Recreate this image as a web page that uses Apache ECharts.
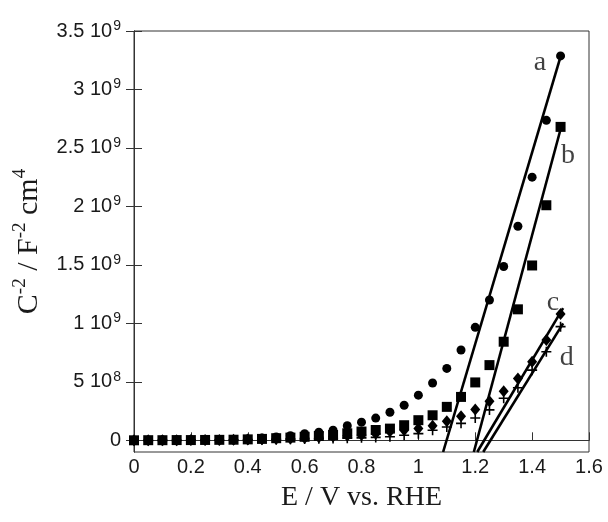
<!DOCTYPE html>
<html>
<head>
<meta charset="utf-8">
<script src="https://cdn.jsdelivr.net/npm/echarts@6/dist/echarts.min.js"></script>
<style>
html,body{margin:0;padding:0;background:#fff;}
#chart{width:608px;height:522px;}
</style>
</head>
<body>
<div id="chart"></div>
<script>
// ---- data (C^-2 values in units of 1e9) ----
const UNIT = 1e9;
const xValues = [0,0.05,0.1,0.15,0.2,0.25,0.3,0.35,0.4,0.45,0.5,0.55,0.6,0.65,0.7,0.75,0.8,0.85,0.9,0.95,1.0,1.05,1.1,1.15,1.2,1.25,1.3,1.35,1.4,1.45,1.5];
const seriesA = [0.001,0.001,0.002,0.002,0.003,0.004,0.005,0.007,0.012,0.02,0.028,0.04,0.057,0.069,0.086,0.125,0.155,0.19,0.24,0.30,0.386,0.49,0.615,0.772,0.966,1.2,1.486,1.83,2.25,2.736,3.287];
const seriesB = [0.0,0.001,0.001,0.002,0.002,0.003,0.004,0.005,0.008,0.012,0.018,0.023,0.03,0.037,0.045,0.06,0.075,0.088,0.1,0.129,0.172,0.214,0.286,0.371,0.495,0.643,0.843,1.12,1.495,2.01,2.68];
const seriesC = [0.0,0.0,0.001,0.001,0.002,0.002,0.003,0.004,0.006,0.009,0.012,0.016,0.02,0.026,0.032,0.038,0.045,0.055,0.075,0.085,0.1,0.125,0.163,0.206,0.263,0.334,0.42,0.529,0.672,0.858,1.08];
const seriesD = [-0.002,-0.002,-0.001,-0.001,0.0,0.0,0.001,0.002,0.003,0.005,0.007,0.009,0.011,0.013,0.015,0.018,0.021,0.025,0.03,0.043,0.057,0.086,0.114,0.145,0.191,0.26,0.36,0.449,0.6,0.757,0.972];
const fitA = [[1.087,-0.1],[1.5,3.28]];
const fitB = [[1.195,-0.1],[1.5,2.66]];
const fitC = [[1.207,-0.1],[1.509,1.13]];
const fitD = [[1.228,-0.1],[1.509,1.0]];
const curveLabels = [[1.428,3.23,'a'],[1.526,2.43,'b'],[1.473,1.175,'c'],[1.522,0.71,'d']];
const xTicks = [0,0.2,0.4,0.6,0.8,1,1.2,1.4,1.6];
const yTicks = [0,0.5,1,1.5,2,2.5,3,3.5];

const toPts = arr => arr.map((v,i)=>[xValues[i], v*UNIT]);
const toLine = arr => arr.map(p=>[p[0], p[1]*UNIT]);

const chart = echarts.init(document.getElementById('chart'), null, {renderer:'canvas'});
const sansFont = 'Liberation Sans, Arial, sans-serif';
const serifFont = 'Liberation Serif, Times New Roman, serif';

function yFmt(v){
  if (Math.abs(v) < 1) return '0';
  const e = Math.floor(Math.log10(v) + 1e-9);
  const m = +(v / Math.pow(10, e)).toFixed(3);
  return m + ' 10{sup|' + e + '}';
}
const yTickVals = yTicks.map(v=>v*UNIT);

const markerStyle = {color:'#000',opacity:1};
const plusPath = 'path://M4.2,0H5.8V4.2H10V5.8H5.8V10H4.2V5.8H0V4.2H4.2Z';

const option = {
  animation:false,
  backgroundColor:'#fff',
  grid:{left:134,right:19,top:31,bottom:70,show:true,borderColor:'#333',borderWidth:1},
  xAxis:[{
    type:'value',min:0,max:1.6,interval:0.2,position:'bottom',
    axisLine:{show:true,lineStyle:{color:'#333',width:1}},
    axisTick:{show:true,inside:true,length:8,lineStyle:{color:'#333'}},
    axisLabel:{fontFamily:sansFont,fontSize:20,color:'#1a1a1a',margin:5,
      formatter:v=>String(+v.toFixed(1)), customValues: xTicks},
    splitLine:{show:false},
    name:'E / V vs. RHE',nameLocation:'middle',nameGap:32,
    nameTextStyle:{fontFamily:serifFont,fontSize:28,color:'#1a1a1a'}
  },{
    type:'value',min:0,max:1.6,position:'top',
    axisLine:{show:true,lineStyle:{color:'#333'}},axisTick:{show:false},axisLabel:{show:false},splitLine:{show:false}
  }],
  yAxis:[{
    type:'value',min:-0.1*UNIT,max:3.5*UNIT,position:'left',
    axisLine:{show:true,lineStyle:{color:'#333',width:1}},
    axisTick:{show:true,inside:true,length:8,lineStyle:{color:'#333'},customValues:yTickVals},
    axisLabel:{customValues:yTickVals,formatter:yFmt,fontFamily:sansFont,fontSize:20,color:'#1a1a1a',margin:13,
      rich:{sup:{fontFamily:sansFont,fontSize:14,color:'#1a1a1a',verticalAlign:'top',padding:[0,0,10,1]}}},
    splitLine:{show:false},
    name:'C{sup|-2} / F{sup|-2} cm{sup|4}',nameLocation:'middle',nameGap:86,nameRotate:90,
    nameTextStyle:{fontFamily:serifFont,fontSize:30,color:'#1a1a1a',
      rich:{sup:{fontFamily:serifFont,fontSize:19,color:'#1a1a1a',padding:[0,0,18,0]}}}
  },{
    type:'value',min:-0.1*UNIT,max:3.5*UNIT,position:'right',
    axisLine:{show:true,lineStyle:{color:'#333'}},
    axisTick:{show:true,inside:true,length:8,lineStyle:{color:'#333'},customValues:yTickVals},
    axisLabel:{show:false},splitLine:{show:false}
  }],
  series:[
    {type:'scatter',name:'a',data:toPts(seriesA),symbol:'circle',symbolSize:9,itemStyle:markerStyle,z:3},
    {type:'scatter',name:'b',data:toPts(seriesB),symbol:'rect',symbolSize:10,itemStyle:markerStyle,z:3},
    {type:'scatter',name:'c',data:toPts(seriesC),symbol:'diamond',symbolSize:[10,12],itemStyle:markerStyle,z:3},
    {type:'scatter',name:'d',data:toPts(seriesD),symbol:plusPath,symbolSize:10,itemStyle:markerStyle,z:3},
    {type:'line',data:toLine(fitA),showSymbol:false,symbol:'none',lineStyle:{color:'#000',width:2.6},clip:true,z:4},
    {type:'line',data:toLine(fitB),showSymbol:false,symbol:'none',lineStyle:{color:'#000',width:2.6},clip:true,z:4},
    {type:'line',data:toLine(fitC),showSymbol:false,symbol:'none',lineStyle:{color:'#000',width:2.6},clip:true,z:4},
    {type:'line',data:toLine(fitD),showSymbol:false,symbol:'none',lineStyle:{color:'#000',width:2.6},clip:true,z:4},
    {type:'scatter',data:curveLabels.map(p=>[p[0],p[1]*UNIT,p[2]]),symbolSize:1,
      itemStyle:{color:'rgba(0,0,0,0)'},z:5,
      label:{show:true,position:'inside',formatter:p=>p.value[2],fontFamily:serifFont,fontSize:28,color:'#111'}}
  ]
};
chart.setOption(option);
</script>
</body>
</html>
